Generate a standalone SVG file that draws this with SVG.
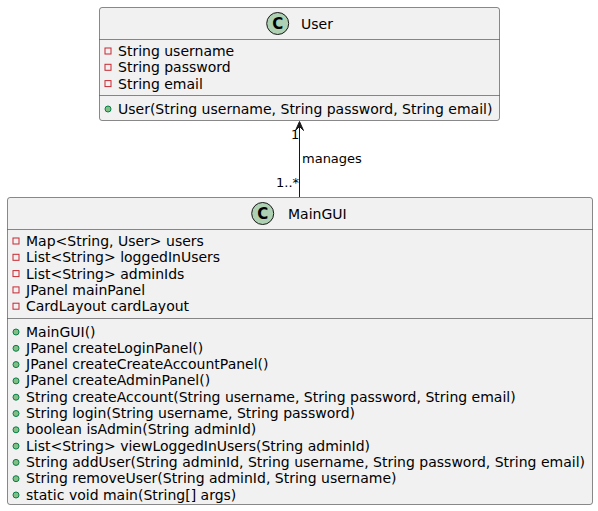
<svg xmlns="http://www.w3.org/2000/svg" width="598" height="511" viewBox="0 0 598 511">
<style>
.box{fill:#F1F1F1;stroke:#181818;stroke-width:0.5}
.sep{stroke:#181818;stroke-width:0.5}
.t{font-family:"DejaVu Sans",sans-serif;font-size:14px;fill:#000}
.lbl{font-family:"DejaVu Sans",sans-serif;font-size:13px;fill:#000}
.circ{fill:#ADD1B2;stroke:#181818;stroke-width:1}
.ct{font-family:"DejaVu Sans",sans-serif;font-size:15px;font-weight:bold;fill:#000}
.priv{fill:none;stroke:#C82930;stroke-width:1}
.pub{fill:#84BE84;stroke:#038048;stroke-width:1}
.conn{stroke:#181818;stroke-width:1;fill:none}
.head{fill:#181818;stroke:#181818;stroke-width:1}
</style>
<g id="User">
<rect class="box" x="99.5" y="7.5" width="400" height="113" rx="2.5"/>
<ellipse class="circ" cx="277.7" cy="23.5" rx="11" ry="11"/>
<text class="ct" x="277.7" y="29" text-anchor="middle">C</text>
<text class="t" x="301" y="28.5">User</text>
<line class="sep" x1="99.5" y1="39.5" x2="499.5" y2="39.5"/>
<rect class="priv" x="105" y="48" width="6" height="6"/>
<text class="t" x="118" y="56">String username</text>
<rect class="priv" x="105" y="64.3" width="6" height="6"/>
<text class="t" x="118" y="72.3">String password</text>
<rect class="priv" x="105" y="80.6" width="6" height="6"/>
<text class="t" x="118" y="88.6">String email</text>
<line class="sep" x1="99.5" y1="95.5" x2="499.5" y2="95.5"/>
<ellipse class="pub" cx="108" cy="109" rx="3" ry="3"/>
<text class="t" x="118" y="113.5">User(String username, String password, String email)</text>
</g>
<g id="MainGUI">
<rect class="box" x="7.5" y="197.5" width="585" height="307" rx="2.5"/>
<ellipse class="circ" cx="262.7" cy="213.5" rx="11" ry="11"/>
<text class="ct" x="262.7" y="219" text-anchor="middle">C</text>
<text class="t" x="288" y="218.5">MainGUI</text>
<line class="sep" x1="7.5" y1="229.5" x2="592.5" y2="229.5"/>
<rect class="priv" x="13" y="238" width="6" height="6"/>
<text class="t" x="26" y="246">Map&lt;String, User&gt; users</text>
<rect class="priv" x="13" y="254.3" width="6" height="6"/>
<text class="t" x="26" y="262.3">List&lt;String&gt; loggedInUsers</text>
<rect class="priv" x="13" y="270.6" width="6" height="6"/>
<text class="t" x="26" y="278.6">List&lt;String&gt; adminIds</text>
<rect class="priv" x="13" y="286.9" width="6" height="6"/>
<text class="t" x="26" y="294.9">JPanel mainPanel</text>
<rect class="priv" x="13" y="303.2" width="6" height="6"/>
<text class="t" x="26" y="311.2">CardLayout cardLayout</text>
<line class="sep" x1="7.5" y1="318.5" x2="592.5" y2="318.5"/>
<ellipse class="pub" cx="16" cy="332" rx="3" ry="3"/>
<text class="t" x="26" y="336.5">MainGUI()</text>
<ellipse class="pub" cx="16" cy="348.3" rx="3" ry="3"/>
<text class="t" x="26" y="352.8">JPanel createLoginPanel()</text>
<ellipse class="pub" cx="16" cy="364.6" rx="3" ry="3"/>
<text class="t" x="26" y="369.1">JPanel createCreateAccountPanel()</text>
<ellipse class="pub" cx="16" cy="380.9" rx="3" ry="3"/>
<text class="t" x="26" y="385.4">JPanel createAdminPanel()</text>
<ellipse class="pub" cx="16" cy="397.2" rx="3" ry="3"/>
<text class="t" x="26" y="401.7">String createAccount(String username, String password, String email)</text>
<ellipse class="pub" cx="16" cy="413.5" rx="3" ry="3"/>
<text class="t" x="26" y="418">String login(String username, String password)</text>
<ellipse class="pub" cx="16" cy="429.8" rx="3" ry="3"/>
<text class="t" x="26" y="434.3">boolean isAdmin(String adminId)</text>
<ellipse class="pub" cx="16" cy="446.1" rx="3" ry="3"/>
<text class="t" x="26" y="450.6">List&lt;String&gt; viewLoggedInUsers(String adminId)</text>
<ellipse class="pub" cx="16" cy="462.4" rx="3" ry="3"/>
<text class="t" x="26" y="466.9">String addUser(String adminId, String username, String password, String email)</text>
<ellipse class="pub" cx="16" cy="478.7" rx="3" ry="3"/>
<text class="t" x="26" y="483.2">String removeUser(String adminId, String username)</text>
<ellipse class="pub" cx="16" cy="495" rx="3" ry="3"/>
<text class="t" x="26" y="499.5">static void main(String[] args)</text>
</g>
<g id="connectors">
<line class="conn" x1="299.5" y1="197" x2="299.5" y2="124"/>
<polygon class="head" points="295.5,130.5 299.5,121.5 303.5,130.5 299.5,126.5"/>
<text class="lbl" x="291" y="138.5">1</text>
<text class="lbl" x="302" y="163">manages</text>
<text class="lbl" x="276" y="187">1..*</text>
</g>
</svg>
